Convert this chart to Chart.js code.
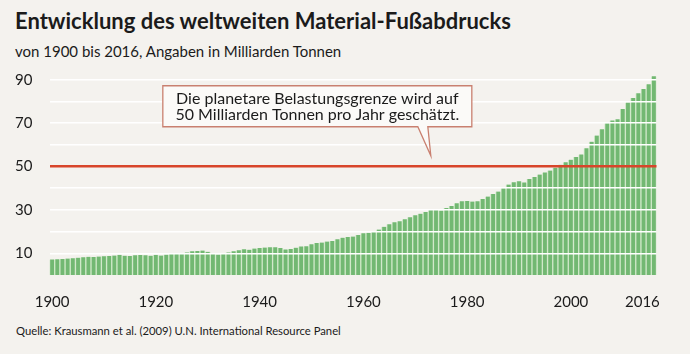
<!DOCTYPE html>
<html lang="de">
<head>
<meta charset="utf-8">
<script src="https://cdn.jsdelivr.net/npm/chart.js@4.4.1/dist/chart.umd.min.js"></script>
<style>
  html, body { margin: 0; padding: 0; background: #f4f2ee; }
  body { width: 690px; height: 354px; position: relative; overflow: hidden; font-family: Lato, sans-serif; color: #1b1b1b; }
  #title { position: absolute; left: 15px; top: 7px; font-size: 22px; font-weight: 700; white-space: nowrap; }
  #subtitle { position: absolute; left: 15px; top: 42px; font-size: 15px; white-space: nowrap; }
  #source { position: absolute; left: 16px; top: 323px; font-size: 12px; white-space: nowrap; transform-origin: left top; transform: scaleX(0.94); }
  #wrap { position: absolute; left: 0; top: 60px; width: 690px; height: 260px; }
</style>
</head>
<body>
<div id="title">Entwicklung des weltweiten Material-Fußabdrucks</div>
<div id="subtitle">von 1900 bis 2016, Angaben in Milliarden Tonnen</div>
<div id="wrap"><canvas id="chart"></canvas></div>
<div id="source">Quelle: Krausmann et al. (2009) U.N. International Resource Panel</div>

<script>
// Weltweite Materialentnahme, Milliarden Tonnen
const firstYear = 1900;
const values = [
    7.2, 7.3, 7.4, 7.6, 7.7, 8.0, 8.2, 8.4, 8.3, 8.5,
    8.7, 8.8, 9.0, 9.3, 8.9, 8.8, 9.1, 9.2, 9.1, 8.9,
    9.3, 9.0, 9.4, 9.8, 9.9, 10.2, 10.4, 10.9, 11.1, 11.3,
    10.7, 10.0, 9.5, 9.9, 10.4, 10.9, 11.4, 11.9, 11.7, 12.2,
    12.5, 12.7, 12.8, 12.8, 12.5, 11.8, 12.0, 12.6, 13.2, 13.3,
    14.2, 14.8, 15.0, 15.4, 15.7, 16.5, 17.2, 17.5, 17.7, 18.5,
    19.3, 19.5, 20.2, 21.0, 22.2, 23.4, 24.3, 24.8, 25.7, 26.6,
    27.6, 28.3, 29.1, 30.1, 30.0, 29.8, 30.9, 31.8, 33.1, 34.0,
    34.1, 33.9, 34.0, 35.0, 36.2, 37.4, 38.5, 40.0, 41.7, 42.8,
    43.2, 42.7, 44.3, 45.2, 46.3, 47.3, 48.2, 49.5, 50.8, 52.0,
    53.2, 54.4, 55.6, 58.4, 61.5, 64.3, 67.2, 70.0, 71.3, 71.8,
    76.6, 79.6, 81.6, 83.8, 85.8, 88.0, 91.6
];
const years = values.map((v, i) => String(firstYear + i));
const yearLabels = ['1900', '1920', '1940', '1960', '1980', '2000', '2016'];
const gridValues = [10, 20, 30, 40, 50, 60, 70, 80, 90];
const yLabels = [10, 30, 50, 70, 90];
const limit = 50;
const noteLines = ['Die planetare Belastungsgrenze wird auf', '50 Milliarden Tonnen pro Jahr geschätzt.'];
const noteYear = '1973';
const noteValue = 55;

const calloutPlugin = {
    id: 'callout',
    afterDraw(chart) {
        const ctx = chart.ctx;
        const tipX = chart.scales.x.getPixelForValue(years.indexOf(noteYear));
        const tipY = chart.scales.y.getPixelForValue(noteValue);
        const left = tipX - 268, right = tipX + 41;
        const top = tipY - 70, bottom = tipY - 29;
        ctx.save();
        ctx.beginPath();
        ctx.moveTo(left, top);
        ctx.lineTo(right, top);
        ctx.lineTo(right, bottom);
        ctx.lineTo(tipX - 3, bottom);
        ctx.lineTo(tipX, tipY);
        ctx.lineTo(tipX - 13, bottom);
        ctx.lineTo(left, bottom);
        ctx.closePath();
        ctx.fillStyle = '#fbfaf8';
        ctx.fill();
        ctx.lineWidth = 1.3;
        ctx.strokeStyle = '#c98070';
        ctx.stroke();
        ctx.fillStyle = '#1b1b1b';
        ctx.font = '16px Lato';
        ctx.textAlign = 'center';
        ctx.textBaseline = 'middle';
        const cx = (left + right) / 2;
        ctx.fillText(noteLines[0], cx, top + 13);
        ctx.fillText(noteLines[1], cx, top + 29);
        ctx.restore();
    }
};

new Chart(document.getElementById('chart'), {
    type: 'bar',
    data: {
        labels: years,
        datasets: [{
            data: values,
            backgroundColor: '#72b872',
            borderColor: '#cfe8c8',
            borderWidth: { left: 1, right: 1, top: 0, bottom: 0 },
            borderSkipped: false,
            barPercentage: 1,
            categoryPercentage: 1
        }]
    },
    options: {
        responsive: true,
        maintainAspectRatio: false,
        animation: false,
        layout: { padding: { top: 9, right: 33.5, left: 15, bottom: 9 } },
        plugins: { legend: { display: false }, tooltip: { enabled: false } },
        scales: {
            x: {
                grid: { display: false, drawTicks: false },
                border: { display: false },
                afterFit(scale) {
                    scale.height = 36;
                    scale.paddingLeft = 0;
                    scale.paddingRight = 0;
                },
                ticks: {
                    autoSkip: false,
                    maxRotation: 0,
                    minRotation: 0,
                    padding: 18,
                    color: '#1b1b1b',
                    font: { family: 'Lato', size: 15 },
                    callback(value) {
                        const label = years[value];
                        if (!yearLabels.includes(label)) return '';
                        return label === '2016' ? label + '      ' : label;
                    }
                }
            },
            y: {
                min: 0,
                max: 95,
                border: { display: false },
                grid: {
                    z: 1,
                    drawTicks: false,
                    color: ctx => ctx.tick && ctx.tick.value === limit ? '#d8452a' : '#ffffff',
                    lineWidth: ctx => ctx.tick && ctx.tick.value === limit ? 2.5 : 1.6
                },
                afterBuildTicks(scale) {
                    scale.ticks = gridValues.map(v => ({ value: v }));
                },
                afterFit(scale) {
                    scale.width = 34.5;
                    scale.paddingTop = 0;
                    scale.paddingBottom = 0;
                },
                ticks: {
                    crossAlign: 'far',
                    padding: 0,
                    color: '#1b1b1b',
                    font: { family: 'Lato', size: 15 },
                    callback(value) {
                        return yLabels.includes(value) ? String(value) : '';
                    }
                }
            }
        }
    },
    plugins: [calloutPlugin]
});
</script>
</body>
</html>
